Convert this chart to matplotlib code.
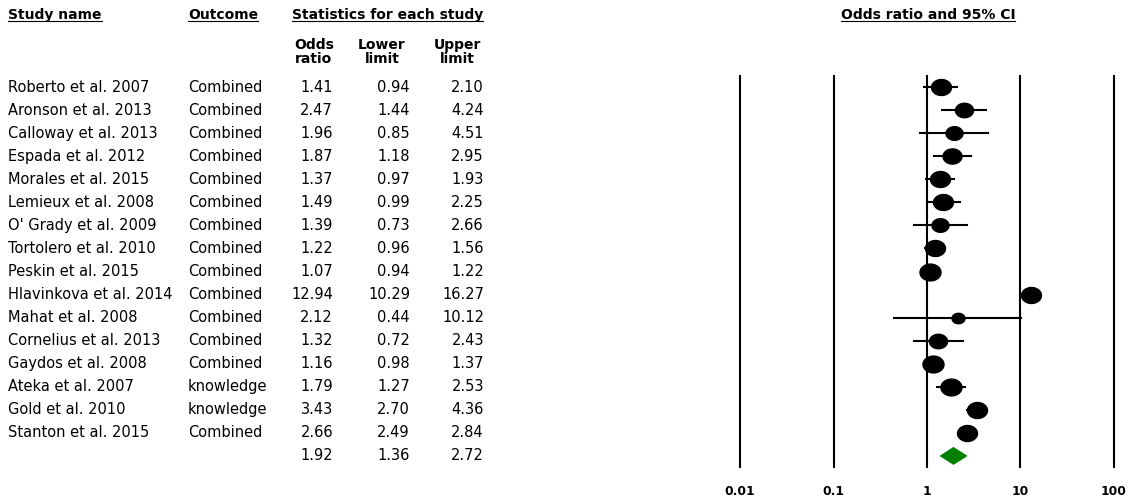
import matplotlib
matplotlib.use('Agg')
import matplotlib.pyplot as plt
import numpy as np
from matplotlib.path import Path
from matplotlib.markers import MarkerStyle
from matplotlib.lines import Line2D
from matplotlib.ticker import NullLocator
from matplotlib.transforms import blended_transform_factory

plt.rcParams['font.family'] = ['DejaVu Sans']

# datos de cada estudio
studies = ['Roberto et al. 2007', 'Aronson et al. 2013', 'Calloway et al. 2013',
           'Espada et al. 2012', 'Morales et al. 2015', 'Lemieux et al. 2008',
           "O' Grady et al. 2009", 'Tortolero et al. 2010', 'Peskin et al. 2015',
           'Hlavinkova et al. 2014', 'Mahat et al. 2008', 'Cornelius et al. 2013',
           'Gaydos et al. 2008', 'Ateka et al. 2007', 'Gold et al. 2010',
           'Stanton et al. 2015']
outcomes = ['Combined'] * 13 + ['knowledge', 'knowledge', 'Combined']
odds = [1.41, 2.47, 1.96, 1.87, 1.37, 1.49, 1.39, 1.22, 1.07, 12.94, 2.12,
        1.32, 1.16, 1.79, 3.43, 2.66]
lower = [0.94, 1.44, 0.85, 1.18, 0.97, 0.99, 0.73, 0.96, 0.94, 10.29, 0.44,
         0.72, 0.98, 1.27, 2.70, 2.49]
upper = [2.10, 4.24, 4.51, 2.95, 1.93, 2.25, 2.66, 1.56, 1.22, 16.27, 10.12,
         2.43, 1.37, 2.53, 4.36, 2.84]
rel_weight = [0.95, 0.86, 0.81, 0.9, 0.95, 0.95, 0.81, 0.95, 1.0, 0.95, 0.62,
              0.86, 1.0, 1.0, 0.95, 0.95]
pooled_or, pooled_lo, pooled_hi = 1.92, 1.36, 2.72

ticks = [0.01, 0.1, 1, 10, 100]
tick_labels = ['0.01', '0.1', '1', '10', '100']

W, H = 1134, 500
fig = plt.figure(figsize=(W / 100, H / 100), dpi=100)
ax = fig.add_axes([740 / W, 33 / H, 374 / W, 391 / H])
ax.set_xscale('log')
ax.set_xlim(0.01, 100)
n = len(studies)
ax.set_ylim(n + 0.48, -0.48)
for s in ax.spines.values():
    s.set_visible(False)
ax.set_yticks([])
ax.set_xticks(ticks, tick_labels, fontweight='bold', fontsize=8.8)
ax.xaxis.set_minor_locator(NullLocator())
ax.tick_params(axis='x', length=0, pad=13)

for t in ticks:
    ax.axvline(t, color='black', lw=1.5, clip_on=False)

# marcador eliptico
th = np.linspace(0, 2 * np.pi, 80)
ellipse = MarkerStyle(Path(np.c_[1.25 * np.cos(th), np.sin(th)], closed=True))

rows = np.arange(n)
for i in rows:
    ax.plot([lower[i], upper[i]], [i, i], color='black', lw=1.5, clip_on=False)
    ax.plot(odds[i], i, marker=ellipse, color='black',
            markersize=21 * 0.72 * rel_weight[i], clip_on=False)

# diamante del efecto combinado
yd = n
ax.fill([pooled_lo, pooled_or, pooled_hi, pooled_or],
        [yd, yd - 0.39, yd, yd + 0.39], color='#008000', lw=0, clip_on=False)

# tabla de la izquierda
tr = blended_transform_factory(fig.transFigure, ax.transData)
fs = 10.5
for i in rows:
    ax.text(8 / W, i, studies[i], transform=tr, va='center', fontsize=fs)
    ax.text(188 / W, i, outcomes[i], transform=tr, va='center', fontsize=fs)
    ax.text(333 / W, i, '%.2f' % odds[i], transform=tr, va='center', ha='right', fontsize=fs)
    ax.text(410 / W, i, '%.2f' % lower[i], transform=tr, va='center', ha='right', fontsize=fs)
    ax.text(484 / W, i, '%.2f' % upper[i], transform=tr, va='center', ha='right', fontsize=fs)
ax.text(333 / W, n, '%.2f' % pooled_or, transform=tr, va='center', ha='right', fontsize=fs)
ax.text(410 / W, n, '%.2f' % pooled_lo, transform=tr, va='center', ha='right', fontsize=fs)
ax.text(484 / W, n, '%.2f' % pooled_hi, transform=tr, va='center', ha='right', fontsize=fs)

# encabezados
hf = 10
heads = [
    fig.text(8 / W, 1 - 15 / H, 'Study name', weight='bold', fontsize=hf, va='center'),
    fig.text(188 / W, 1 - 15 / H, 'Outcome', weight='bold', fontsize=hf, va='center'),
    fig.text(292 / W, 1 - 15 / H, 'Statistics for each study', weight='bold', fontsize=hf, va='center'),
    fig.text(928 / W, 1 - 15 / H, 'Odds ratio and 95% CI', weight='bold', fontsize=hf,
             va='center', ha='center'),
]
for x, lab in [(314, 'Odds\nratio'), (382, 'Lower\nlimit'), (457, 'Upper\nlimit')]:
    fig.text(x / W, 1 - 52 / H, lab, weight='bold', fontsize=hf, va='center',
             ha='center', linespacing=1.05)

# subrayado de los encabezados
fig.canvas.draw()
renderer = fig.canvas.get_renderer()
inv = fig.transFigure.inverted()
for t in heads:
    bb = t.get_window_extent(renderer)
    (x0, y0), (x1, _) = inv.transform([(bb.x0, bb.y0 + 1), (bb.x1, bb.y0 + 1)])
    fig.add_artist(Line2D([x0, x1], [y0, y0], color='black', lw=0.8))

fig.savefig('out.png', dpi=100)
